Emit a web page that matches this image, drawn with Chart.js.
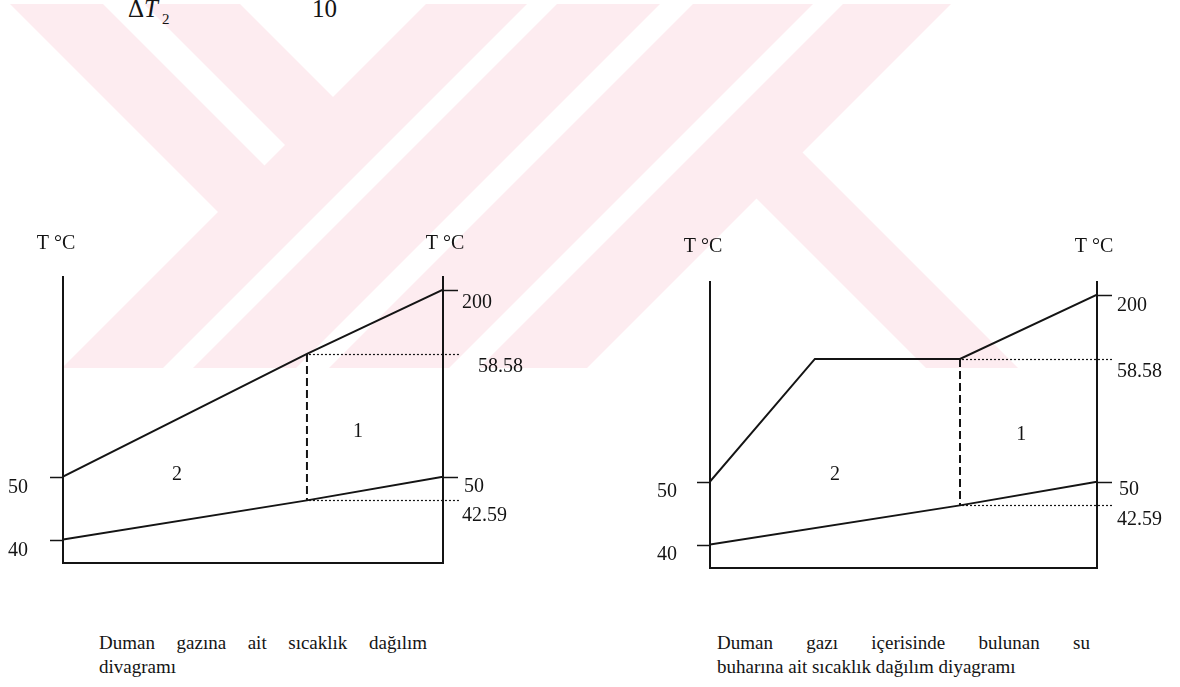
<!DOCTYPE html>
<html lang="tr">
<head>
<meta charset="utf-8">
<title>Sıcaklık dağılım diyagramları</title>
<script src="https://cdn.jsdelivr.net/npm/chart.js@4.4.1/dist/chart.umd.min.js"></script>
<style>
  html, body { margin: 0; padding: 0; background: #fff; }
  #page { position: relative; width: 1180px; height: 687px; overflow: hidden; background: #fff; }
  #logo { position: absolute; left: 0; top: 0; }
  canvas { position: absolute; }
  .serif { position: absolute; font-family: "Liberation Serif", "Times New Roman", serif; color: #141414; white-space: nowrap; }
  .cap { font-size: 19px; line-height: 19px; }
  .just { text-align: justify; text-align-last: justify; white-space: normal; }
</style>
</head>
<body>
<div id="page">
  <!-- faint institutional logo printed behind the page content -->
  <svg id="logo" width="1180" height="687" viewBox="0 0 1180 687">
    <polygon fill="#fdecf0" points="10,4 240,4 333.5,97.5 218.5,212.5"/>
    <polygon fill="#ffffff" points="103,4 144,4 285.5,145.5 265,166"/>
    <g fill="#fdecf0">
      <polygon points="426,4 527,4 163,368 62,368"/>
      <polygon points="557,4 660,4 296,368 193,368"/>
      <polygon points="693,4 813,4 449,368 329,368"/>
      <polygon points="843,4 951,4 587,368 479,368"/>
      <polygon points="729,171 775,125 1018,368 926,368"/>
    </g>
  </svg>

  <div class="serif" style="left:128px; top:-4px; font-size:25px; line-height:25px;">Δ<i>T</i></div>
  <div class="serif" style="left:162px; top:12px; font-size:15px; line-height:15px;">2</div>
  <div class="serif" style="left:312px; top:-4px; font-size:25px; line-height:25px;">10</div>

  <canvas id="gasChart" width="560" height="400" style="left:0; top:200px;"></canvas>
  <canvas id="vapourChart" width="580" height="400" style="left:600px; top:200px;"></canvas>

  <div class="serif cap just" style="left:99px; top:633px; width:328px;">Duman gazına ait sıcaklık dağılım</div>
  <div class="serif cap" style="left:99px; top:657px;">divagramı</div>
  <div class="serif cap just" style="left:717px; top:633px; width:373px;">Duman gazı içerisinde bulunan su</div>
  <div class="serif cap" style="left:717px; top:657px;">buharına ait sıcaklık dağılım diyagramı</div>
</div>

<script>
// ---------------- values ----------------
const axisTitle = 'T °C';
const zoneLabels = ['2', '1'];
const leftAxisTicks = [50, 40];
const rightAxisTicks = [200, 50];
const leaderTicks = [58.58, 42.59];

// Flue gas diagram: position along the exchanger (%) and temperatures (°C)
const gasX = [0, 64.2, 100];
const gasT = [50, 58.58, 200];
const waterX = [0, 64.2, 100];
const waterT = [40, 42.59, 50];

// Water vapour diagram
const vapourX = [0, 27.1, 64.6, 100];
const vapourT = [50, 58.58, 58.58, 200];
const water2X = [0, 64.6, 100];
const water2T = [40, 42.59, 50];

// Temperatures marked on the schematic (non-linear) temperature axis
const tempStops = [40, 42.59, 50, 58.58, 200];

// ---------------- styling ----------------
const INK = '#141414';
const LABEL_FONT = '20px "Liberation Serif", "Times New Roman", serif';
// where each marked temperature sits along the axis (0 = bottom, 1 = top)
const STOP_FRACTIONS = [0.082, 0.219, 0.302, 0.731, 0.956];

function tempToFraction(v) {
  const s = tempStops, f = STOP_FRACTIONS, n = s.length;
  let i = 0;
  if (v >= s[n - 1]) i = n - 2;
  else if (v > s[0]) { while (v > s[i + 1]) i++; }
  return f[i] + (v - s[i]) / (s[i + 1] - s[i]) * (f[i + 1] - f[i]);
}
function fractionToTemp(q) {
  const s = tempStops, f = STOP_FRACTIONS, n = f.length;
  let i = 0;
  if (q >= f[n - 1]) i = n - 2;
  else if (q > f[0]) { while (q > f[i + 1]) i++; }
  return s[i] + (q - f[i]) / (f[i + 1] - f[i]) * (s[i + 1] - s[i]);
}

// Piecewise temperature axis: the diagram is schematic, not to scale
class SchematicTempScale extends Chart.LinearScale {
  getPixelForValue(value) { return this.getPixelForDecimal(tempToFraction(value)); }
  getValueForPixel(pixel) { return fractionToTemp(this.getDecimalForPixel(pixel)); }
}
SchematicTempScale.id = 'schematicTemp';
Chart.register(SchematicTempScale);

function fmt(v) { return String(v); }

// Axis titles, tick marks, tick labels, dotted leaders and zone numbers
function makeDecor(cfg) {
  return {
    id: 'axisDecor',
    afterDatasetsDraw(chart) {
      const { ctx, chartArea: a } = chart;
      const xs = chart.scales.x, ys = chart.scales.y;
      ctx.save();
      ctx.fillStyle = INK;
      ctx.strokeStyle = INK;
      ctx.font = LABEL_FONT;
      ctx.textBaseline = 'alphabetic';

      // titles above both vertical axes
      ctx.textAlign = 'center';
      ctx.fillText(axisTitle, a.left + cfg.titleDx[0], a.top + cfg.titleDy);
      ctx.fillText(axisTitle, a.right + cfg.titleDx[1], a.top + cfg.titleDy);

      // left axis ticks
      ctx.lineWidth = 1.5;
      leftAxisTicks.forEach(v => {
        const py = Math.round(ys.getPixelForValue(v)) + 0.5;
        ctx.beginPath(); ctx.moveTo(a.left - 13, py); ctx.lineTo(a.left, py); ctx.stroke();
        ctx.textAlign = 'right';
        ctx.fillText(fmt(v), a.left + cfg.leftLabelDx, py + cfg.leftLabelDy);
      });

      // right axis ticks
      rightAxisTicks.forEach((v, i) => {
        const py = Math.round(ys.getPixelForValue(v)) + 0.5;
        ctx.beginPath(); ctx.moveTo(a.right + 1, py); ctx.lineTo(a.right + 15, py); ctx.stroke();
        ctx.textAlign = 'left';
        ctx.fillText(fmt(v), a.right + cfg.rightLabel[i][0], py + cfg.rightLabel[i][1]);
      });

      // dotted leaders from the split line to the right axis
      const sx = xs.getPixelForValue(cfg.splitX);
      ctx.lineWidth = 1.2;
      ctx.setLineDash([2, 2]);
      leaderTicks.forEach(v => {
        const py = Math.round(ys.getPixelForValue(v)) + 0.5;
        ctx.beginPath(); ctx.moveTo(sx + 2, py); ctx.lineTo(a.right + 16, py); ctx.stroke();
      });
      ctx.setLineDash([]);
      leaderTicks.forEach((v, i) => {
        const py = ys.getPixelForValue(v);
        ctx.textAlign = 'left';
        ctx.fillText(fmt(v), a.right + cfg.leaderLabel[i][0], py + cfg.leaderLabel[i][1]);
      });

      // zone numbers
      ctx.textAlign = 'center';
      zoneLabels.forEach((t, i) => {
        const z = cfg.zones[i];
        ctx.fillText(t, xs.getPixelForValue(z[0]), ys.getPixelForValue(z[1]));
      });
      ctx.restore();
    }
  };
}

function pts(xArr, yArr) { return xArr.map((x, i) => ({ x, y: yArr[i] })); }

function axisBorder() { return { display: true, color: INK, width: 2 }; }

function buildChart(id, series, split, frame, decor) {
  const datasets = series.map(s => ({ data: s, borderColor: INK, borderWidth: 2 }));
  datasets.push({ data: split, borderColor: INK, borderWidth: 2, borderDash: [8, 4] });
  return new Chart(document.getElementById(id), {
    type: 'line',
    data: { datasets },
    options: {
      responsive: false,
      animation: false,
      devicePixelRatio: 1,
      events: [],
      layout: { padding: { top: frame.top, bottom: frame.bottom, left: 0, right: 0 } },
      elements: { point: { radius: 0 }, line: { tension: 0, borderJoinStyle: 'miter' } },
      plugins: { legend: { display: false }, tooltip: { enabled: false } },
      scales: {
        x: {
          type: 'linear', min: 0, max: 100,
          grid: { display: false }, ticks: { display: false }, border: axisBorder(),
          afterFit: s => { s.height = 0; }
        },
        y: {
          type: 'schematicTemp', position: 'left', min: 30, max: 210,
          grid: { display: false }, ticks: { display: false }, border: axisBorder(),
          afterFit: s => { s.width = frame.left; }
        },
        y2: {
          type: 'schematicTemp', position: 'right', min: 30, max: 210,
          grid: { display: false }, ticks: { display: false }, border: axisBorder(),
          afterFit: s => { s.width = frame.right; }
        }
      }
    },
    plugins: [makeDecor(decor)]
  });
}

// Flue gas temperature distribution
buildChart('gasChart',
  [pts(gasX, gasT), pts(waterX, waterT)],
  [{ x: gasX[1], y: gasT[1] }, { x: waterX[1], y: waterT[1] }],
  { top: 77, bottom: 37, left: 63, right: 117 },
  {
    splitX: gasX[1],
    titleDx: [-7, 2], titleDy: -28,
    leftLabelDx: -35, leftLabelDy: 15,
    rightLabel: [[19, 17], [21, 14]],
    leaderLabel: [[35, 18], [19, 21]],
    zones: [[30, 48.9], [77.6, 52.8]]
  });

// Water vapour temperature distribution
buildChart('vapourChart',
  [pts(vapourX, vapourT), pts(water2X, water2T)],
  [{ x: vapourX[2], y: vapourT[2] }, { x: water2X[1], y: water2T[1] }],
  { top: 82, bottom: 32, left: 110, right: 83 },
  {
    splitX: vapourX[2],
    titleDx: [-7, -3], titleDy: -30,
    leftLabelDx: -33, leftLabelDy: 14,
    rightLabel: [[20, 15], [22, 12]],
    leaderLabel: [[20, 18], [20, 20]],
    zones: [[32.3, 50.1], [80.4, 52.9]]
  });
</script>
</body>
</html>
